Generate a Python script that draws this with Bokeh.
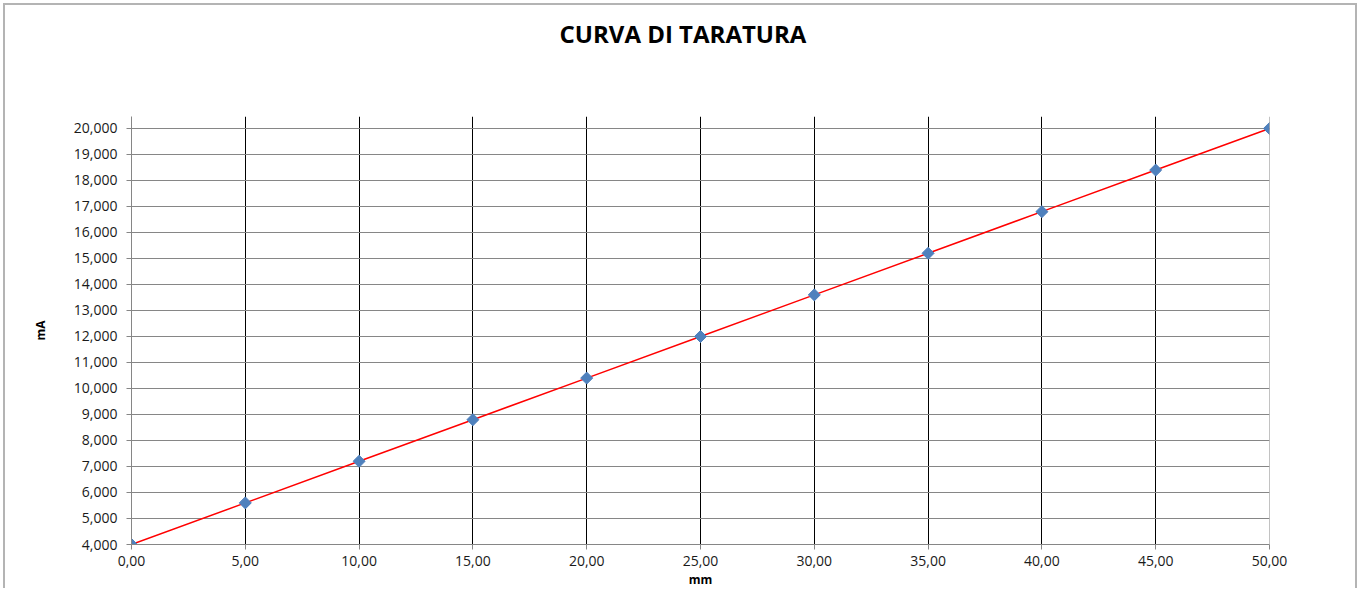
from bokeh.plotting import figure
from bokeh.models import FixedTicker, Span
from bokeh.embed import file_html
from bokeh.resources import INLINE
import math

# ---- data ----
x_mm = [0, 5, 10, 15, 20, 25, 30, 35, 40, 45, 50]
y_mA = [4.0, 5.6, 7.2, 8.8, 10.4, 12.0, 13.6, 15.2, 16.8, 18.4, 20.0]
x_ticks = [0, 5, 10, 15, 20, 25, 30, 35, 40, 45, 50]
x_tick_labels = ["0,00", "5,00", "10,00", "15,00", "20,00", "25,00",
                 "30,00", "35,00", "40,00", "45,00", "50,00"]
y_ticks = [4, 5, 6, 7, 8, 9, 10, 11, 12, 13, 14, 15, 16, 17, 18, 19, 20]
y_tick_labels = ["4,000", "5,000", "6,000", "7,000", "8,000", "9,000", "10,000",
                 "11,000", "12,000", "13,000", "14,000", "15,000", "16,000",
                 "17,000", "18,000", "19,000", "20,000"]
title_text = "CURVA DI TARATURA"
x_label = "mm"
y_label = "mA"

FONT = "Open Sans"
GRAY = "#868686"

p = figure(width=1354, height=585, x_range=(0, 50), y_range=(4, 20.46),
           output_backend="svg", toolbar_location=None,
           min_border_left=126, min_border_right=90,
           min_border_top=111, min_border_bottom=45)
p.styles = {"margin-left": "3px", "margin-top": "3px",
            "border-top": "2px solid #b4b4b4",
            "border-left": "2px solid #b4b4b4",
            "border-right": "2px solid #b4b4b4"}
p.outline_line_color = None
p.background_fill_color = "white"

# two empty lines below the title push it towards the top of the chart
p.title.text = title_text + "\n\n"
p.title.align = "left"
p.title.offset = 428
p.title.standoff = 2
p.title.text_font = FONT
p.title.text_font_size = "24px"
p.title.text_font_style = "bold"
p.title.text_color = "black"

# axes
p.xaxis.ticker = FixedTicker(ticks=x_ticks)
p.xaxis.major_label_overrides = {t: l for t, l in zip(x_ticks, x_tick_labels)}
p.yaxis.ticker = FixedTicker(ticks=y_ticks)
p.yaxis.major_label_overrides = {t: l for t, l in zip(y_ticks, y_tick_labels)}
for ax in (p.xaxis[0], p.yaxis[0]):
    ax.axis_line_color = GRAY
    ax.major_tick_line_color = GRAY
    ax.major_tick_in = 0
    ax.major_tick_out = 5
    ax.minor_tick_line_color = None
    ax.major_label_text_font = FONT
    ax.major_label_text_font_size = "14px"
    ax.major_label_text_color = "#1a1a1a"
    ax.axis_label_text_font = FONT
    ax.axis_label_text_font_size = "12px"
    ax.axis_label_text_font_style = "bold"
    ax.axis_label_text_color = "black"
p.xaxis.major_label_standoff = 6
p.yaxis.major_label_standoff = 9
p.xaxis.axis_label = x_label
p.xaxis.axis_label_standoff = 2
p.yaxis.axis_label = y_label
p.yaxis.axis_label_standoff = 22

# grids
p.xgrid.ticker = FixedTicker(ticks=x_ticks[1:-1])
p.xgrid.grid_line_color = "black"
p.xgrid.grid_line_width = 1
p.ygrid.ticker = FixedTicker(ticks=y_ticks)
p.ygrid.grid_line_color = GRAY
p.ygrid.grid_line_width = 1
p.add_layout(Span(location=x_ticks[-1], dimension="height", line_color=GRAY, line_width=1))

# data
p.line(x_mm, y_mA, line_color="red", line_width=1.5)
p.scatter(x_mm, y_mA, marker="square", angle=math.pi / 4, size=8.5,
          fill_color="#4f81bd", line_color="#4f81bd")

open("out.html", "w").write(file_html(p, INLINE))
